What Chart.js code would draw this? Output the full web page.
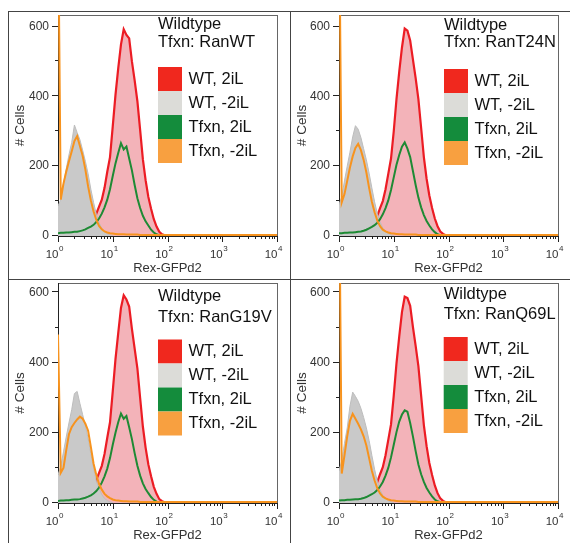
<!DOCTYPE html>
<html>
<head>
<meta charset="utf-8">
<script src="https://cdn.jsdelivr.net/npm/chart.js@4.4.0/dist/chart.umd.min.js"></script>
<style>
  body { margin: 0; background: #fff; width: 570px; height: 543px; position: relative; overflow: hidden; }
  canvas { position: absolute; }
  .rule { position: absolute; background: #444; }
</style>
</head>
<body>
<div class="rule" style="left:8px;top:11px;width:562px;height:1px"></div>
<div class="rule" style="left:8px;top:11px;width:1px;height:532px"></div>
<div class="rule" style="left:290px;top:11px;width:1px;height:532px"></div>
<div class="rule" style="left:8px;top:279px;width:562px;height:1px"></div>
<canvas id="p1" width="280" height="265" style="left:9px;top:13px"></canvas>
<canvas id="p2" width="279" height="265" style="left:291px;top:13px"></canvas>
<canvas id="p3" width="280" height="263" style="left:9px;top:280px"></canvas>
<canvas id="p4" width="279" height="263" style="left:291px;top:280px"></canvas>
<script>
// bin positions on the x axis, in decades (10^0 .. 10^4)
const decades = [0, 0.05, 0.1, 0.15, 0.2, 0.25, 0.3, 0.35, 0.4, 0.45,
                 0.5, 0.55, 0.6, 0.65, 0.7, 0.75, 0.8, 0.85, 0.9, 0.95,
                 1, 1.05, 1.1, 1.15, 1.2, 1.25, 1.3, 1.35, 1.4, 1.45,
                 1.5, 1.55, 1.6, 1.65, 1.7, 1.75, 1.8, 1.85, 1.9, 1.95,
                 2, 2.5, 3, 3.5, 4];
const yMajor = [0, 200, 400, 600];
const yMinor = [100, 300, 500];
const xExponents = ['0', '1', '2', '3', '4'];
const seriesNames = ['WT, 2iL', 'WT, -2iL', 'Tfxn, 2iL', 'Tfxn, -2iL'];
const boxColors = ['#f0281e', '#dcdcd8', '#148c3c', '#f8a040'];

// Tfxn: RanWT
const wt2iL_RanWT = [0,0,1,2,3,4,6,8,10,13,16,22,30,42,64,84,104,138,184,226,314,404,480,548,592,576,566,500,446,386,304,220,160,112,78,48,27,12,5,2,0];
const wtMinus_RanWT = [86,104,150,192,232,268,318,296,276,246,214,178,134,96,62,38,22,12,6,3,1];
const tf2iL_RanWT = [8,9,9,10,10,11,12,12,14,16,19,23,27,32,40,50,64,82,104,134,172,208,238,266,248,256,222,188,146,108,80,58,42,30,18,10,5,2,1,0,0];
const tfMinus_RanWT = [960,104,150,184,214,242,272,286,258,230,190,142,102,70,46,29,19,13,10,8,7,6,5,5,5,4,4,4,4,4,3,3,3,3,3,3,3,3,3,3,3,3,3,3,3];

// Tfxn: RanT24N
const wt2iL_RanT24N = [0,0,1,2,3,4,5,7,9,12,16,21,29,40,58,80,100,134,178,222,300,392,470,540,594,588,560,506,452,392,310,226,164,116,80,50,28,13,6,2,0];
const wtMinus_RanT24N = [90,112,158,200,240,284,316,306,282,250,218,180,138,98,64,40,23,13,7,3,1];
const tf2iL_RanT24N = [8,8,9,9,10,10,11,12,13,15,18,22,26,31,38,48,62,80,102,132,168,204,232,256,268,250,226,186,146,110,82,60,43,30,19,11,5,2,1,0,0];
const tfMinus_RanT24N = [980,96,120,158,196,228,252,264,246,218,182,138,98,68,44,28,18,13,10,8,7,6,5,5,4,4,4,4,4,3,3,3,3,3,3,3,3,3,3,3,3,3,3,3,3];

// Tfxn: RanG19V
const wt2iL_RanG19V = [0,0,1,2,3,4,6,8,10,13,17,23,31,44,66,86,106,140,186,230,318,410,484,556,592,580,560,496,440,384,300,218,158,110,76,46,26,11,5,2,0];
const wtMinus_RanG19V = [80,104,146,188,228,266,312,318,284,252,220,184,140,100,62,42,24,13,7,3,1];
const tf2iL_RanG19V = [6,7,7,8,8,9,10,10,11,13,15,18,22,27,34,44,58,76,98,128,166,200,230,255,240,248,216,182,142,106,78,56,40,28,17,9,4,2,1,0,0];
const tfMinus_RanG19V = [480,86,100,150,196,216,228,238,246,240,226,206,160,112,80,54,38,26,19,14,10,8,7,6,5,5,4,4,4,4,3,3,3,3,3,3,3,3,3,3,3,3,3,3,3];

// Tfxn: RanQ69L
const wt2iL_RanQ69L = [0,0,1,2,3,4,5,7,9,12,15,20,28,40,60,82,102,136,180,224,306,398,474,544,588,584,562,502,448,390,306,222,162,114,80,50,28,13,6,2,0];
const wtMinus_RanQ69L = [92,120,170,214,276,316,304,290,270,244,214,178,136,96,62,38,22,12,6,3,1];
const tf2iL_RanQ69L = [7,8,8,9,9,10,11,11,12,14,17,21,25,30,37,47,60,78,100,130,166,202,232,252,264,260,228,190,148,110,82,60,43,30,19,10,5,2,1,0,0];
const tfMinus_RanQ69L = [990,84,136,190,234,254,240,226,210,190,164,128,92,64,42,27,18,13,10,8,7,6,5,5,4,4,4,4,4,3,3,3,3,3,3,3,3,3,3,3,3,3,3,3,3];

const panels = [
  { id: 'p1', tfxn: 'RanWT', series: [wt2iL_RanWT, wtMinus_RanWT, tf2iL_RanWT, tfMinus_RanWT],
    pad: { left: 49, top: 2, right: 12, bottom: 42 }, yMax: 633, dx: 100, l1: 13.5, l2: 31.7, boxTop: 52 },
  { id: 'p2', tfxn: 'RanT24N', series: [wt2iL_RanT24N, wtMinus_RanT24N, tf2iL_RanT24N, tfMinus_RanT24N],
    pad: { left: 48, top: 2, right: 12, bottom: 42 }, yMax: 633, dx: 105, l1: 14.5, l2: 32, boxTop: 54 },
  { id: 'p3', tfxn: 'RanG19V', series: [wt2iL_RanG19V, wtMinus_RanG19V, tf2iL_RanG19V, tfMinus_RanG19V],
    pad: { left: 49, top: 3, right: 12, bottom: 40 }, yMax: 627, dx: 100, l1: 17.7, l2: 38.7, boxTop: 56.5 },
  { id: 'p4', tfxn: 'RanQ69L', series: [wt2iL_RanQ69L, wtMinus_RanQ69L, tf2iL_RanQ69L, tfMinus_RanQ69L],
    pad: { left: 48, top: 3, right: 12, bottom: 40 }, yMax: 627, dx: 104.7, l1: 15.6, l2: 35.6, boxTop: 54 },
];

const FONT = '"Liberation Sans", Arial, Helvetica, sans-serif';

function toPoints(vals) {
    return vals.map((v, i) => ({ x: decades[i], y: v }));
}

// plot box, drawn under the histograms
const frame = {
    id: 'frame',
    beforeDatasetsDraw(chart) {
        const { ctx, chartArea: a } = chart;
        ctx.save();
        ctx.lineWidth = 1;
        ctx.strokeStyle = '#666';
        ctx.strokeRect(a.left + 0.5, a.top + 0.5, a.right - a.left, a.bottom - a.top);
        ctx.strokeStyle = '#222';
        ctx.beginPath();
        ctx.moveTo(a.left + 0.5, a.top);
        ctx.lineTo(a.left + 0.5, a.bottom + 0.5);
        ctx.lineTo(a.right + 1, a.bottom + 0.5);
        ctx.stroke();
        ctx.restore();
    }
};

// ticks, tick labels, axis titles, panel title and legend
const decor = {
    id: 'decor',
    afterDatasetsDraw(chart, args, opts) {
        const { ctx, chartArea: a, scales: { x, y } } = chart;
        const p = opts.panel;
        ctx.save();
        ctx.strokeStyle = '#222';
        ctx.lineWidth = 1;
        ctx.beginPath();
        yMajor.forEach(v => {
            const py = Math.round(y.getPixelForValue(v)) - 0.5;
            ctx.moveTo(a.left - 6, py); ctx.lineTo(a.left, py);
        });
        yMinor.forEach(v => {
            const py = Math.round(y.getPixelForValue(v)) - 0.5;
            ctx.moveTo(a.left - 3, py); ctx.lineTo(a.left, py);
        });
        for (let d = 0; d < 4; d++) {
            for (let k = 2; k <= 9; k++) {
                const px = Math.round(x.getPixelForValue(d + Math.log10(k))) + 0.5;
                ctx.moveTo(px, a.bottom); ctx.lineTo(px, a.bottom + 3);
            }
        }
        xExponents.forEach((e, i) => {
            const px = Math.round(x.getPixelForValue(i)) + 0.5;
            ctx.moveTo(px, a.bottom); ctx.lineTo(px, a.bottom + 6);
        });
        ctx.stroke();

        ctx.fillStyle = '#333';
        ctx.font = '12px ' + FONT;
        ctx.textAlign = 'right';
        ctx.textBaseline = 'middle';
        yMajor.forEach(v => ctx.fillText(String(v), a.left - 9, y.getPixelForValue(v)));

        ctx.textBaseline = 'alphabetic';
        xExponents.forEach((e, i) => {
            const px = x.getPixelForValue(i);
            ctx.font = '11.5px ' + FONT;
            ctx.textAlign = 'right';
            ctx.fillText('10', px + 0.5, a.bottom + 22);
            ctx.font = '8px ' + FONT;
            ctx.textAlign = 'left';
            ctx.fillText(e, px + 1, a.bottom + 15);
        });

        ctx.font = '13px ' + FONT;
        ctx.textAlign = 'center';
        ctx.fillText('Rex-GFPd2', (a.left + a.right) / 2, a.bottom + 36);
        ctx.save();
        ctx.translate(11, (a.top + a.bottom) / 2);
        ctx.rotate(-Math.PI / 2);
        ctx.font = '13.5px ' + FONT;
        ctx.textBaseline = 'middle';
        ctx.fillText('# Cells', 0, 0);
        ctx.restore();

        const tx = a.left + p.dx;
        ctx.fillStyle = '#111';
        ctx.font = '16.5px ' + FONT;
        ctx.textAlign = 'left';
        ctx.fillText('Wildtype', tx, a.top + p.l1);
        ctx.fillText('Tfxn: ' + p.tfxn, tx, a.top + p.l2);
        seriesNames.forEach((name, i) => {
            const by = a.top + p.boxTop + i * 24;
            ctx.fillStyle = boxColors[i];
            ctx.fillRect(tx, by, 24, 24);
            ctx.fillStyle = '#111';
            ctx.fillText(name, tx + 30.5, by + 16.5);
        });
        ctx.restore();
    }
};

panels.forEach(p => {
    new Chart(document.getElementById(p.id), {
        type: 'line',
        data: {
            datasets: [
                { label: seriesNames[3], data: toPoints(p.series[3]), borderColor: '#f7931e', borderWidth: 2, fill: false },
                { label: seriesNames[2], data: toPoints(p.series[2]), borderColor: '#1e8a34', borderWidth: 2, fill: false },
                { label: seriesNames[1], data: toPoints(p.series[1]), borderColor: '#bdbdbd', backgroundColor: '#c9c9c9', borderWidth: 1, fill: 'origin' },
                { label: seriesNames[0], data: toPoints(p.series[0]), borderColor: '#ec1c24', backgroundColor: '#f3b3b9', borderWidth: 2.2, fill: 'origin' },
            ]
        },
        options: {
            responsive: false,
            animation: false,
            devicePixelRatio: 1,
            layout: { padding: p.pad },
            elements: { point: { radius: 0 }, line: { tension: 0 } },
            scales: {
                x: { type: 'linear', min: 0, max: 4, display: false },
                y: { type: 'linear', min: 0, max: p.yMax, display: false },
            },
            plugins: {
                legend: { display: false },
                tooltip: { enabled: false },
                decor: { panel: p },
            },
        },
        plugins: [frame, decor],
    });
});
</script>
</body>
</html>
